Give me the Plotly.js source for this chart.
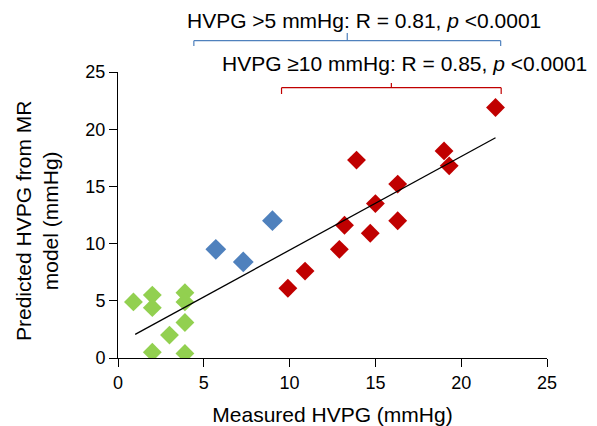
<!DOCTYPE html>
<html>
<head>
<meta charset="utf-8">
<script src="https://cdn.plot.ly/plotly-3.0.1.min.js"></script>
<style>html,body{margin:0;padding:0;background:#fff;}#chart{width:597px;height:426px;}</style>
</head>
<body>
<div id="chart"></div>
<script>
// HVPG < 5 mmHg (green)
const greenX = [0.9, 2.0, 2.0, 2.0, 3.0, 3.9, 3.9, 3.9, 3.9];
const greenY = [4.9, 5.5, 4.4, 0.5, 2.0, 5.7, 4.9, 3.1, 0.4];
// HVPG 5-10 mmHg (blue)
const blueX = [5.7, 7.3, 9.0];
const blueY = [9.5, 8.4, 12.0];
// HVPG >= 10 mmHg (red)
const redX = [9.9, 10.9, 12.9, 13.2, 13.9, 14.7, 15.0, 16.3, 16.3, 19.0, 19.3, 22.0];
const redY = [6.1, 7.6, 9.5, 11.6, 17.3, 10.9, 13.5, 15.2, 12.0, 18.1, 16.8, 21.9];
// regression line end points
const trendX = [1.0, 22.0];
const trendY = [2.07, 19.25];
const xTicks = [0, 5, 10, 15, 20, 25];
const yTicks = [0, 5, 10, 15, 20, 25];

const FONT = 'Liberation Sans, Arial, sans-serif';
const BLUE = '#4F81BD', RED = '#C00000', GREEN = '#92D050';

const traces = [
  {x: greenX, y: greenY, type: 'scatter', mode: 'markers', marker: {symbol: 'diamond', size: 14.5, color: GREEN}, hoverinfo: 'skip'},
  {x: blueX, y: blueY, type: 'scatter', mode: 'markers', marker: {symbol: 'diamond', size: 16, color: BLUE}, hoverinfo: 'skip'},
  {x: redX, y: redY, type: 'scatter', mode: 'markers', marker: {symbol: 'diamond', size: 14.5, color: RED}, hoverinfo: 'skip'},
  {x: trendX, y: trendY, type: 'scatter', mode: 'lines', line: {color: '#000', width: 1.3}, hoverinfo: 'skip'}
];

function L(x0, y0, x1, y1, c) {
  return {type: 'line', xref: 'x', yref: 'paper', x0: x0, y0: y0, x1: x1, y1: y1, line: {color: c, width: 1.2}};
}
const bA = 4.42, bB = 22.3, bM = 13.36, bY = 1.1094, bEnd = 1.0909, bTop = 1.1364;
const rA = 9.53, rB = 22.33, rM = 15.93, rY = 0.9451, rEnd = 0.923, rTop = 0.9615;

const layout = {
  width: 597, height: 426,
  margin: {l: 118, r: 50, t: 72, b: 68},
  paper_bgcolor: '#fff', plot_bgcolor: '#fff',
  showlegend: false,
  font: {family: FONT, color: '#000'},
  xaxis: {
    range: [0, 25], tickvals: xTicks, ticktext: xTicks.map(String),
    showgrid: false, zeroline: false, showline: true, linecolor: '#000', linewidth: 1,
    ticks: 'outside', ticklen: 8, tickcolor: '#000', tickwidth: 1,
    tickfont: {size: 18, family: FONT, color: '#000'},
    title: {text: 'Measured HVPG (mmHg)', font: {size: 21, family: FONT, color: '#000'}, standoff: 17},
    automargin: false
  },
  yaxis: {
    range: [0, 25], tickvals: yTicks, ticktext: yTicks.map(String),
    showgrid: false, zeroline: false, showline: true, linecolor: '#000', linewidth: 1,
    ticks: 'outside', ticklen: 8, tickcolor: '#000', tickwidth: 1,
    tickfont: {size: 18, family: FONT, color: '#000'},
    automargin: false
  },
  shapes: [
    L(bA, bY, bB, bY, BLUE), L(bA, bY, bA, bEnd, BLUE), L(bB, bY, bB, bEnd, BLUE), L(bM, bY, bM, bTop, BLUE),
    L(rA, rY, rB, rY, RED), L(rA, rY, rA, rEnd, RED), L(rB, rY, rB, rEnd, RED), L(rM, rY, rM, rTop, RED)
  ],
  annotations: [
    {xref: 'paper', yref: 'paper', x: -0.1888, y: 0.479, xanchor: 'center', yanchor: 'middle', showarrow: false,
     textangle: -90, text: 'Predicted HVPG from MR<br>model (mmHg)', font: {size: 21, family: FONT, color: '#000'}},
    {xref: 'x', yref: 'paper', x: 14.33, y: 1.1818, xanchor: 'center', yanchor: 'middle', showarrow: false,
     text: 'HVPG >5 mmHg: R = 0.81, <i>p</i> <0.0001', font: {size: 21, family: FONT, color: '#000'}},
    {xref: 'x', yref: 'paper', x: 16.67, y: 1.028, xanchor: 'center', yanchor: 'middle', showarrow: false,
     text: 'HVPG ≥10 mmHg: R = 0.85, <i>p</i> <0.0001', font: {size: 21, family: FONT, color: '#000'}}
  ]
};

Plotly.newPlot('chart', traces, layout, {staticPlot: true, displayModeBar: false});
</script>
</body>
</html>
